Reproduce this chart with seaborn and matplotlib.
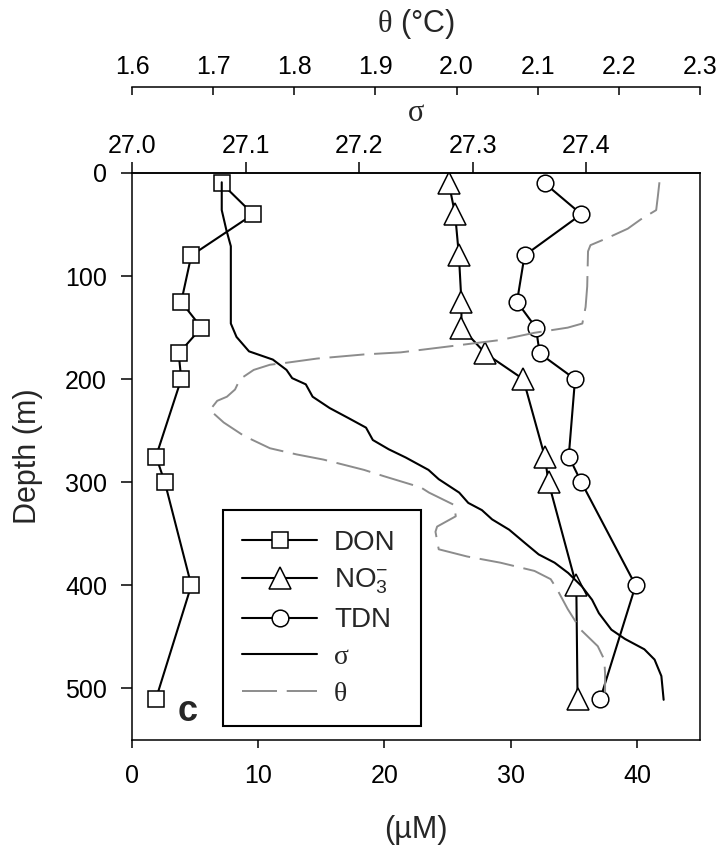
import matplotlib
matplotlib.use("Agg")
import matplotlib.pyplot as plt
import seaborn as sns
import pandas as pd

# Nitrogen species at the sampling depths (µM)
depth_n = [10, 40, 80, 125, 150, 175, 200, 275, 300, 400, 510]
don = [7.1, 9.6, 4.7, 3.9, 5.5, 3.7, 3.9, 1.9, 2.6, 4.7, 1.9]
no3 = [25.1, 25.6, 25.9, 26.1, 26.1, 28.0, 31.0, 32.7, 33.0, 35.2, 35.3]
tdn = [32.7, 35.6, 31.1, 30.5, 32.0, 32.3, 35.1, 34.6, 35.6, 39.9, 37.1]

# CTD density anomaly profile
depth_s = [9, 36, 55, 71, 146, 159, 173, 181, 191, 199, 205, 217, 228, 238, 247,
           259, 268, 276, 288, 297, 310, 320, 327, 336, 346, 359, 370, 378, 388,
           401, 414, 427, 443, 452, 462, 472, 488, 511]
sigma = [27.079, 27.079, 27.083, 27.087, 27.087, 27.092, 27.103, 27.124, 27.136,
         27.141, 27.153, 27.159, 27.174, 27.191, 27.206, 27.212, 27.226, 27.241,
         27.261, 27.270, 27.288, 27.296, 27.308, 27.317, 27.332, 27.346, 27.358,
         27.372, 27.384, 27.396, 27.405, 27.411, 27.422, 27.434, 27.451, 27.460,
         27.466, 27.468]

# CTD potential temperature profile (°C)
depth_t = [9, 23, 36, 45, 54, 63, 70, 76, 110, 130, 146, 150, 155, 162, 168, 174,
           176, 180, 184, 186, 191, 200, 210, 217, 221, 230, 242, 255, 267, 273,
           278, 288, 294, 305, 310, 322, 333, 343, 348, 365, 372, 378, 386, 394,
           404, 423, 443, 459, 472, 485, 504]
theta = [2.250, 2.248, 2.246, 2.227, 2.211, 2.186, 2.165, 2.162, 2.161, 2.159,
         2.155, 2.137, 2.096, 2.054, 1.993, 1.931, 1.886, 1.828, 1.791, 1.770,
         1.750, 1.733, 1.727, 1.717, 1.705, 1.696, 1.713, 1.738, 1.770, 1.803,
         1.836, 1.886, 1.910, 1.956, 1.966, 1.997, 1.999, 1.976, 1.974, 1.978,
         2.013, 2.054, 2.096, 2.116, 2.124, 2.137, 2.153, 2.174, 2.182, 2.183,
         2.183]

conc_ticks = [0, 10, 20, 30, 40]
depth_ticks = [0, 100, 200, 300, 400, 500]
sigma_ticks = [27.0, 27.1, 27.2, 27.3, 27.4]
theta_ticks = [1.6, 1.7, 1.8, 1.9, 2.0, 2.1, 2.2, 2.3]

sns.set_style("ticks")
plt.rcParams["font.family"] = ["Liberation Sans", "DejaVu Sans"]
plt.rcParams["mathtext.fontset"] = "custom"
plt.rcParams["mathtext.rm"] = "Liberation Serif"
plt.rcParams["mathtext.sf"] = "Liberation Sans"
plt.rcParams["mathtext.it"] = "Liberation Serif:italic"

TICK_FS = 18
LABEL_FS = 22

fig = plt.figure(figsize=(7.23, 8.56), dpi=100)
ax = fig.add_axes([132 / 723, 1 - 740 / 856, 568 / 723, 567 / 856])

nut = pd.DataFrame({"depth": depth_n, "DON": don, "NO3": no3, "TDN": tdn})
prof_s = pd.DataFrame({"depth": depth_s, "sigma": sigma})
prof_t = pd.DataFrame({"depth": depth_t, "theta": theta})

mk = dict(color="black", lw=1.5, markerfacecolor="white",
          markeredgecolor="black", markeredgewidth=1.1)

sns.lineplot(data=nut, x="DON", y="depth", sort=False, estimator=None, ax=ax,
             marker="s", markersize=11, **mk)
h_don = ax.lines[-1]
sns.lineplot(data=nut, x="NO3", y="depth", sort=False, estimator=None, ax=ax,
             marker="^", markersize=15.5, **mk)
h_no3 = ax.lines[-1]
sns.lineplot(data=nut, x="TDN", y="depth", sort=False, estimator=None, ax=ax,
             marker="o", markersize=12, **mk)
h_tdn = ax.lines[-1]

ax.set_xlim(0, 45)
ax.set_ylim(550, 0)
ax.set_xticks(conc_ticks)
ax.set_yticks(depth_ticks)
ax.set_xlabel("(µM)", fontsize=LABEL_FS, labelpad=20)
ax.set_ylabel("Depth (m)", fontsize=LABEL_FS, labelpad=16)
ax.tick_params(axis="x", direction="out", length=6, width=1.1, pad=11,
               labelsize=TICK_FS, colors="black")
ax.tick_params(axis="y", direction="out", length=8, width=1.1, pad=10,
               labelsize=TICK_FS, colors="black")
for s in ax.spines.values():
    s.set_visible(True)
    s.set_color("black")
    s.set_linewidth(1.1)

# density anomaly on the first top axis
ax2 = ax.twiny()
sns.lineplot(data=prof_s, x="sigma", y="depth", sort=False, estimator=None,
             ax=ax2, color="black", lw=1.5)
h_sig = ax2.lines[-1]
ax2.set_xlim(27.0, 27.5)
ax2.set_ylim(550, 0)
ax2.set_xticks(sigma_ticks)
ax2.set_xticklabels([f"{v:.1f}" for v in sigma_ticks])
ax2.set_xlabel("σ", fontsize=LABEL_FS, family=["Liberation Serif"], labelpad=9)
ax2.tick_params(axis="x", direction="out", length=8, width=1.1, pad=3,
                labelsize=TICK_FS, colors="black")
for side in ["bottom", "left", "right"]:
    ax2.spines[side].set_visible(False)
ax2.spines["top"].set_color("black")
ax2.spines["top"].set_linewidth(1.1)

# potential temperature on the outer top axis
ax3 = ax.twiny()
sns.lineplot(data=prof_t, x="theta", y="depth", sort=False, estimator=None,
             ax=ax3, color="#8c8c8c", lw=1.4)
h_th = ax3.lines[-1]
h_th.set_dashes((18, 5))
ax3.set_xlim(1.6, 2.3)
ax3.set_ylim(550, 0)
ax3.set_xticks(theta_ticks)
ax3.set_xticklabels([f"{v:.1f}" for v in theta_ticks])
ax3.set_xlabel(r"$\mathrm{\theta}$ (°C)", fontsize=LABEL_FS, labelpad=16)
ax3.spines["top"].set_position(("outward", 62))
ax3.tick_params(axis="x", direction="in", length=6, width=1.1, pad=6,
                labelsize=TICK_FS, colors="black")
for side in ["bottom", "left", "right"]:
    ax3.spines[side].set_visible(False)
ax3.spines["top"].set_color("black")
ax3.spines["top"].set_linewidth(1.1)

for a in (ax, ax2, ax3):
    if a.get_legend() is not None:
        a.get_legend().remove()

labels = ["DON", r"NO$_\mathsf{3}^\mathsf{-}$", "TDN", "σ", "θ"]
leg = ax3.legend([h_don, h_no3, h_tdn, h_sig, h_th], labels,
                 loc="lower left", bbox_to_anchor=(0.160, 0.0247, 0.349, 0.388),
                 mode="expand", fontsize=20, frameon=True, fancybox=False,
                 edgecolor="black", framealpha=1, handlelength=2.7,
                 handletextpad=0.6, labelspacing=0.4, borderpad=0.7,
                 borderaxespad=0)
leg.get_frame().set_linewidth(1.5)
for t in leg.get_texts()[3:]:
    t.set_family(["Liberation Serif"])

# panel letter
ax.text(4.4, 522, "c", fontsize=26, fontweight="bold", ha="center",
        va="center")

fig.savefig("out.png", dpi=100)
